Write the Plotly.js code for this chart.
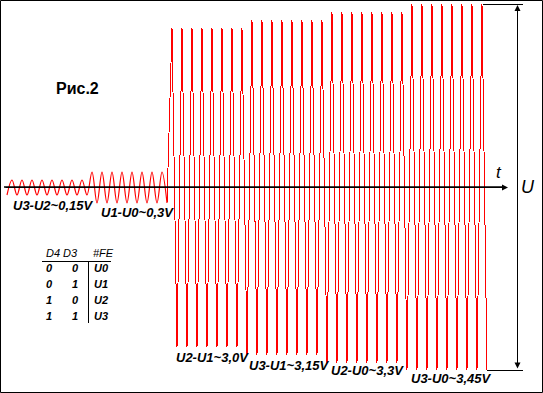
<!DOCTYPE html>
<html>
<head>
<meta charset="utf-8">
<script src="https://cdn.plot.ly/plotly-3.0.1.min.js"></script>
<style>
html,body{margin:0;padding:0;background:#fff;}
#chart{width:543px;height:393px;}
#chart .tracebig path.js-line{shape-rendering:crispEdges;}
</style>
</head>
<body>
<div id="chart"></div>
<script>
// ---- data ----
// positive peak level of each segment (chart units above the t axis)
const segHigh = [7, 15, 159, 167, 175, 183];
const highCounts = [8, 8, 8, 8, 8, 8];
// negative peak level of each segment
const segLow = [-8, -16, -160, -168, -176, -183];
const lowCounts = [9, 8, 7, 8, 8, 9];
// difference labels
const diffLabels = ["U3-U2~0,15V", "U1-U0~0,3V", "U2-U1~3,0V", "U3-U1~3,15V", "U2-U0~3,3V", "U3-U0~3,45V"];
// table
const tableHeader = ["D4 D3", "#FE"];
const colD4 = ["0", "0", "1", "1"];
const colD3 = ["0", "1", "0", "1"];
const colFE = ["U0", "U1", "U2", "U3"];
const figTitle = "Рис.2";

// ---- build waveform (alternating troughs and peaks, one per half period) ----
function expand(levels, counts) {
  const out = [];
  levels.forEach((v, i) => { for (let k = 0; k < counts[i]; k++) out.push(v); });
  return out;
}
const lows = expand(segLow, lowCounts);
const highs = expand(segHigh, highCounts);
const wx = [], wy = [];
for (let j = 0; j < lows.length; j++) {
  wx.push(wx.length * 0.5); wy.push(lows[j]);
  if (j < highs.length) { wx.push(wx.length * 0.5); wy.push(highs[j]); }
}
// small-signal part (smooth) and large-signal part (sharp strokes)
const split = wy.findIndex(v => Math.abs(v) > 50) - 1;

const W = 543, H = 393;
const px = x => x / W;
const py = y => 1 - y / H;
const FONT = "Liberation Sans, Arial, sans-serif";

const shapes = [
  {type: "rect", xref: "paper", yref: "paper", x0: px(0.5), x1: px(542.5), y0: py(0.5), y1: py(392.5), line: {color: "#000", width: 1}},
  {type: "line", xref: "paper", yref: "paper", x0: px(483), x1: px(523), y0: py(4.5), y1: py(4.5), line: {color: "#000", width: 1}},
  {type: "line", xref: "paper", yref: "paper", x0: px(487), x1: px(523), y0: py(370.5), y1: py(370.5), line: {color: "#000", width: 1}},
  {type: "line", xref: "paper", yref: "paper", x0: px(42), x1: px(111), y0: py(261.5), y1: py(261.5), line: {color: "#000", width: 1}},
  {type: "line", xref: "paper", yref: "paper", x0: px(88.5), x1: px(88.5), y0: py(262), y1: py(323), line: {color: "#000", width: 1}}
];

const ann = [];
ann.push({xref: "paper", yref: "paper", axref: "paper", ayref: "paper", x: px(508), y: py(187.5), ax: px(4), ay: py(187.5),
  text: "", showarrow: true, arrowhead: 2, arrowsize: 1.2, arrowwidth: 1, arrowcolor: "#000"});
ann.push({xref: "paper", yref: "paper", axref: "paper", ayref: "paper", x: px(517.5), y: py(5), ax: px(517.5), ay: py(370),
  text: "", showarrow: true, arrowhead: 2, startarrowhead: 2, arrowside: "end+start", arrowsize: 1.2, startarrowsize: 1.2, arrowwidth: 1, arrowcolor: "#000"});
ann.push({xref: "paper", yref: "paper", x: px(499), y: py(172), text: "<i>t</i>", showarrow: false,
  font: {family: FONT, size: 17, color: "#000"}, xanchor: "center", yanchor: "middle"});
ann.push({xref: "paper", yref: "paper", x: px(528), y: py(187), text: "<i>U</i>", showarrow: false,
  font: {family: FONT, size: 18, color: "#000"}, xanchor: "center", yanchor: "middle"});
ann.push({xref: "paper", yref: "paper", x: px(54), y: py(88), text: "<b>" + figTitle + "</b>", showarrow: false,
  font: {family: FONT, size: 16, color: "#000"}, xanchor: "left", yanchor: "middle"});

const labelPos = [[11, 205], [99, 212], [174, 357], [247, 365], [329, 370], [409, 378]];
diffLabels.forEach((s, i) => {
  ann.push({xref: "paper", yref: "paper", x: px(labelPos[i][0]), y: py(labelPos[i][1]), text: "<b><i>" + s + "</i></b>",
    showarrow: false, font: {family: FONT, size: 13, color: "#000"}, xanchor: "left", yanchor: "middle"});
});
const headX = [44, 91];
tableHeader.forEach((s, i) => {
  ann.push({xref: "paper", yref: "paper", x: px(headX[i]), y: py(253), text: "<i>" + s + "</i>", showarrow: false,
    font: {family: FONT, size: 11, color: "#000"}, xanchor: "left", yanchor: "middle"});
});
colD4.forEach((v, i) => {
  const yy = 268 + i * 16;
  ann.push({xref: "paper", yref: "paper", x: px(49), y: py(yy), text: "<b><i>" + v + "</i></b>", showarrow: false,
    font: {family: FONT, size: 11, color: "#000"}, xanchor: "center", yanchor: "middle"});
  ann.push({xref: "paper", yref: "paper", x: px(75), y: py(yy), text: "<b><i>" + colD3[i] + "</i></b>", showarrow: false,
    font: {family: FONT, size: 11, color: "#000"}, xanchor: "center", yanchor: "middle"});
  ann.push({xref: "paper", yref: "paper", x: px(92), y: py(yy), text: "<b><i>" + colFE[i] + "</i></b>", showarrow: false,
    font: {family: FONT, size: 11, color: "#000"}, xanchor: "left", yanchor: "middle"});
});

const traceSmall = {x: wx.slice(0, split + 1), y: wy.slice(0, split + 1), type: "scatter", mode: "lines", uid: "small",
  line: {color: "#ff0000", width: 1.2, shape: "spline", smoothing: 1}, hoverinfo: "skip"};
const traceBig = {x: wx.slice(split), y: wy.slice(split), type: "scatter", mode: "lines", uid: "big",
  line: {color: "#ff0000", width: 1, shape: "linear"}, hoverinfo: "skip"};

const layout = {
  width: W, height: H, margin: {l: 0, r: 0, t: 0, b: 0},
  paper_bgcolor: "#fff", plot_bgcolor: "#fff", showlegend: false,
  xaxis: {range: [-0.7, 53.6], visible: false, fixedrange: true},
  yaxis: {range: [-206, 187], visible: false, fixedrange: true},
  shapes: shapes, annotations: ann
};
layout.shapes.push({type: "line", xref: "paper", yref: "y", x0: px(4), x1: px(505), y0: 0, y1: 0, line: {color: "#000", width: 1.5}, layer: "above"});

Plotly.newPlot("chart", [traceSmall, traceBig], layout, {staticPlot: true, displayModeBar: false});
</script>
</body>
</html>
